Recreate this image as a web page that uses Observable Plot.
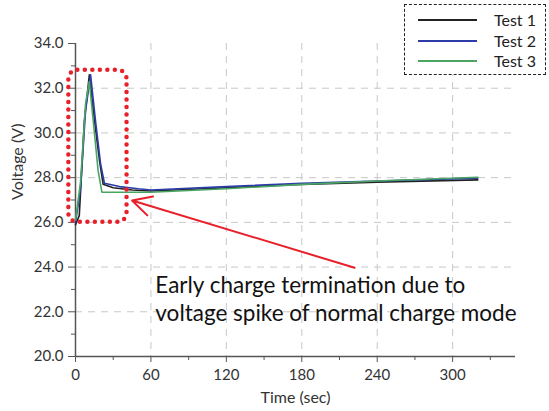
<!DOCTYPE html>
<html>
<head>
<meta charset="utf-8">
<script src="https://cdn.jsdelivr.net/npm/d3@7"></script>
<script src="https://cdn.jsdelivr.net/npm/@observablehq/plot@0.6"></script>
<style>
  html, body { margin: 0; padding: 0; background: #fff; }
  #wrap { position: relative; width: 549px; height: 411px; font-family: Lato, "Open Sans", sans-serif; }
  #legend { position: absolute; left: 404px; top: 4px; width: 140px; height: 69px;
            border: 1.5px dashed #222; background: #fff; }
  .item { position: absolute; left: 0; width: 140px; height: 20px; }
  .sw { position: absolute; left: 13px; top: 9px; width: 59px; height: 0; border-top: 2px solid; }
  .lab { position: absolute; left: 89px; top: 0; font-size: 16px; line-height: 20px; color: #222; }
</style>
</head>
<body>
<div id="wrap">
  <div id="chart"></div>
  <div id="legend"></div>
</div>
<script>
// ---- data ----
const seriesNames = ["Test 1", "Test 2", "Test 3"];
const seriesColors = ["#222222", "#2d3ca8", "#4aa562"];

const test1Time = [0, 3, 7, 11, 15, 19, 22, 30, 45, 60, 120, 180, 240, 320];
const test1Volt = [25.9, 26.3, 30.5, 32.6, 30.6, 28.8, 27.7, 27.55, 27.45, 27.4, 27.55, 27.7, 27.8, 27.9];

const test2Time = [0, 4, 8, 12, 16, 20, 23, 35, 50, 60, 120, 180, 240, 320];
const test2Volt = [26.0, 27.5, 31.0, 32.6, 30.5, 28.6, 27.75, 27.6, 27.5, 27.45, 27.6, 27.75, 27.85, 27.98];

const test3Time = [0, 4, 8, 11, 14, 18, 21, 40, 60, 120, 180, 240, 320];
const test3Volt = [26.1, 27.8, 31.3, 32.3, 30.6, 28.3, 27.35, 27.35, 27.35, 27.5, 27.7, 27.85, 28.02];

const xTicks = [0, 60, 120, 180, 240, 300];
const xMinorTicks = [30, 90, 150, 210, 270, 330];
const yTicks = [20, 22, 24, 26, 28, 30, 32, 34];
const yMinorTicks = [21, 23, 25, 27, 29, 31, 33];
const yGrid = [22, 24, 26, 28, 30, 32];

const boxX = [-5.3, 41];      // highlight box (time)
const boxY = [26.0, 32.8];    // highlight box (voltage)
const arrowFrom = [222, 23.97];
const arrowTo = [45, 26.98];
const noteLines = ["Early charge termination due to", "voltage spike of normal charge mode"];
const noteX = 63.5;
const noteY = [23.18, 21.93];

// ---- build table ----
const times = [test1Time, test2Time, test3Time];
const volts = [test1Volt, test2Volt, test3Volt];
const rows = [];
seriesNames.forEach((s, i) => times[i].forEach((t, j) => rows.push({series: s, t, v: volts[i][j]})));

const chart = Plot.plot({
  width: 549,
  height: 411,
  marginLeft: 75,
  marginRight: 34,
  marginTop: 43,
  marginBottom: 55,
  style: {fontFamily: "Lato, 'Open Sans', sans-serif", fontSize: "14px", color: "#333", background: "#fff"},
  x: {domain: [0, 350]},
  y: {domain: [20, 34]},
  color: {domain: seriesNames, range: seriesColors},
  marks: [
    Plot.gridX(xTicks.slice(1), {stroke: "#c8c8c8", strokeOpacity: 1, strokeDasharray: "7,6"}),
    Plot.gridY(yGrid, {stroke: "#c8c8c8", strokeOpacity: 1, strokeDasharray: "7,6"}),
    Plot.axisX(xTicks, {tickSize: 6, tickPadding: 7, fontSize: 15, stroke: "#555", fill: "#333", label: null}),
    Plot.axisX(xMinorTicks, {tickSize: 4, tickFormat: () => "", stroke: "#555", label: null}),
    Plot.axisY(yTicks, {tickSize: 7, tickPadding: 5, fontSize: 15, stroke: "#555", fill: "#333",
                        tickFormat: d3.format(".1f"), label: null}),
    Plot.axisY(yMinorTicks, {tickSize: 4, tickFormat: () => "", stroke: "#555", label: null}),
    Plot.ruleX([0], {stroke: "#555", strokeWidth: 1.5}),
    Plot.ruleY([20], {stroke: "#555", strokeWidth: 1.5}),
    Plot.line(rows, {x: "t", y: "v", z: "series", stroke: "series", strokeWidth: 1.6}),
    Plot.rect([{x1: boxX[0], x2: boxX[1], y1: boxY[0], y2: boxY[1]}],
      {x1: "x1", x2: "x2", y1: "y1", y2: "y2", fill: "none", stroke: "#e8202a", strokeWidth: 4.5,
       strokeDasharray: "0,7.5", strokeLinecap: "round", rx: 9}),
    Plot.arrow([{x1: arrowFrom[0], y1: arrowFrom[1], x2: arrowTo[0], y2: arrowTo[1]}],
      {x1: "x1", y1: "y1", x2: "x2", y2: "y2", stroke: "#e8202a", strokeWidth: 2, headLength: 16, headAngle: 55}),
    Plot.text(noteLines, {x: () => noteX, y: (d, i) => noteY[i], text: d => d, textAnchor: "start",
      fontSize: 22.5, fill: "#111"}),
    Plot.text(["Time (sec)"], {frameAnchor: "bottom", dy: 46, text: d => d, fontSize: 16, fill: "#333"}),
    Plot.text(["Voltage (V)"], {frameAnchor: "left", dx: -58, rotate: -90, text: d => d, fontSize: 16, fill: "#333"})
  ]
});
document.getElementById("chart").appendChild(chart);

// ---- legend ----
const legend = document.getElementById("legend");
seriesNames.forEach((s, i) => {
  const item = document.createElement("div");
  item.className = "item";
  item.style.top = (5 + i * 20.5) + "px";
  item.innerHTML = `<div class="sw" style="border-color:${seriesColors[i]}"></div><div class="lab">${s}</div>`;
  legend.appendChild(item);
});
</script>
</body>
</html>
